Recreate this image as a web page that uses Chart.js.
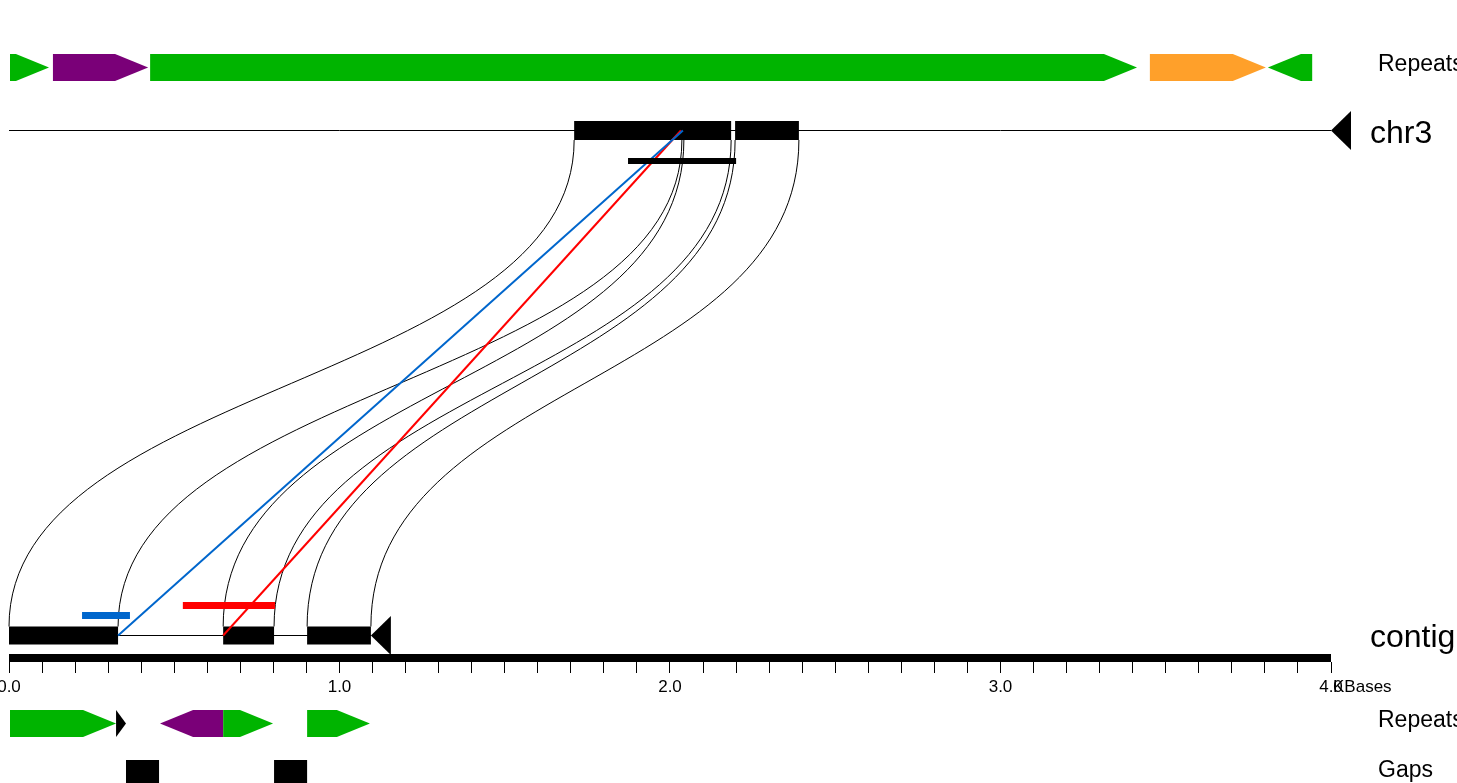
<!DOCTYPE html>
<html>
<head>
<meta charset="utf-8">
<script src="https://cdn.jsdelivr.net/npm/chart.js@4.4.1/dist/chart.umd.min.js"></script>
<style>
  html, body { margin: 0; padding: 0; background: #fff; overflow: hidden; }
  #wrap { width: 1457px; height: 783px; position: relative; }
</style>
</head>
<body>
<div id="wrap"><canvas id="c"></canvas></div>
<script>
// all positions in kilobases
const chr3Length = 4.0;
const contigLength = 1.095;
const chr3Blocks = [[1.710, 2.036], [2.036, 2.185], [2.197, 2.390]];
const contigBlocks = [[0.000, 0.330], [0.648, 0.802], [0.902, 1.095]];
const chr3Hit = [1.873, 2.200];
const blueHit = [0.221, 0.366];
const redHit = [0.526, 0.805];
// [contig kb, chr3 kb]
const blueLink = [0.330, 2.039];
const redLink = [0.648, 2.033];
const linkContig = [0.000, 0.330, 0.648, 0.802, 0.902, 1.095];
const linkChr3 = [1.710, 2.036, 2.042, 2.185, 2.197, 2.390];

const topRepeatStart = [0.003, 0.133, 0.427, 3.452, 3.809];
const topRepeatEnd = [0.121, 0.421, 3.413, 3.803, 3.943];
const topRepeatStrand = ['+', '+', '+', '+', '-'];
const topRepeatClass = ['green', 'purple', 'green', 'orange', 'green'];

const bottomRepeatStart = [0.003, 0.324, 0.457, 0.648, 0.902];
const bottomRepeatEnd = [0.324, 0.354, 0.648, 0.799, 1.092];
const bottomRepeatStrand = ['+', '+', '-', '+', '+'];
const bottomRepeatClass = ['green', 'black', 'purple', 'green', 'green'];

const gapStart = [0.354, 0.802];
const gapEnd = [0.454, 0.902];

const tickLabels = ['0.0', '1.0', '2.0', '3.0', '4.0'];
const axisUnit = 'KBases';

// layout (y in canvas pixels)
const ROW = { repTop: 67.5, chr3: 130.5, chr3Hit: 161, red: 605.5, blue: 615.5, contig: 635.5,
  ruler: 658, rulerTicks: 662, repBottom: 723.5, gaps: 776.5 };
const BLOCK_H = 19;
const REPEAT_H = 27;
const HEAD_KB = 0.1;
const FONT = '"Liberation Sans", Arial, Helvetica, sans-serif';
const repeatColors = { green: '#00b400', purple: '#7a0078', orange: '#ffa02a', black: '#000000' };

// x: 0 kb at 9px, 4 kb at 1331px on a 1457px wide canvas
const PX_PER_KB = 330.5;
const X_MIN = -9 / PX_PER_KB;
const X_MAX = X_MIN + 1457 / PX_PER_KB;

function segs(pairs, y) {
  const pts = [];
  pairs.forEach(p => { pts.push({x: p[0], y: y}, {x: p[1], y: y}, {x: p[1], y: null}); });
  return pts;
}
function lineSet(data, color, width, order) {
  return { type: 'line', data: data, borderColor: color, borderWidth: width, pointRadius: 0,
    borderCapStyle: 'butt', tension: 0, spanGaps: false, fill: false, order: order };
}

const datasets = [
  lineSet(segs([chr3Hit], ROW.chr3Hit), '#000', 6, 1),
  lineSet(segs([blueHit], ROW.blue), '#0066cc', 7, 1),
  lineSet(segs([redHit], ROW.red), '#ff0000', 7, 1),
  lineSet([{x: blueLink[0], y: ROW.contig}, {x: blueLink[1], y: ROW.chr3}], '#0066cc', 2, 2),
  lineSet([{x: redLink[0], y: ROW.contig}, {x: redLink[1], y: ROW.chr3}], '#ff0000', 2, 2),
  lineSet(segs(chr3Blocks, ROW.chr3), '#000', BLOCK_H, 3),
  lineSet(segs(contigBlocks, ROW.contig), '#000', BLOCK_H - 1, 3),
  lineSet(segs(gapStart.map((s, i) => [s, gapEnd[i]]), ROW.gaps), '#000', 33, 3),
  lineSet(segs([[0, chr3Length]], ROW.ruler), '#000', 8, 3),
  lineSet(segs([[0, chr3Length]], ROW.chr3), '#000', 1, 4),
  lineSet(segs([[0, contigLength]], ROW.contig), '#000', 1, 4)
];

function drawRepeat(ctx, xs, ys, s, e, strand, color, row) {
  const x0 = xs.getPixelForValue(s), x1 = xs.getPixelForValue(e);
  const head = Math.min(x1 - x0, xs.getPixelForValue(HEAD_KB) - xs.getPixelForValue(0));
  const mid = ys.getPixelForValue(row);
  const top = mid - REPEAT_H / 2, bot = mid + REPEAT_H / 2;
  ctx.fillStyle = color;
  ctx.beginPath();
  if (strand === '+') {
    ctx.moveTo(x0, top); ctx.lineTo(x1 - head, top); ctx.lineTo(x1, mid);
    ctx.lineTo(x1 - head, bot); ctx.lineTo(x0, bot);
  } else {
    ctx.moveTo(x1, top); ctx.lineTo(x0 + head, top); ctx.lineTo(x0, mid);
    ctx.lineTo(x0 + head, bot); ctx.lineTo(x1, bot);
  }
  ctx.closePath();
  ctx.fill();
}

function drawEnd(ctx, xs, ys, kb, row) {
  const tip = xs.getPixelForValue(kb), mid = ys.getPixelForValue(row);
  ctx.fillStyle = '#000';
  ctx.beginPath();
  ctx.moveTo(tip, mid); ctx.lineTo(tip + 20, mid - 19.5); ctx.lineTo(tip + 20, mid + 19.5);
  ctx.closePath();
  ctx.fill();
}

const genomePlugin = {
  id: 'genome',
  beforeDatasetsDraw(chart) {
    const ctx = chart.ctx, xs = chart.scales.x, ys = chart.scales.y;
    ctx.save();
    ctx.strokeStyle = '#000';
    ctx.lineWidth = 1;
    const yBot = ys.getPixelForValue(ROW.contig - BLOCK_H / 2 + 0.5);
    const yTop = ys.getPixelForValue(ROW.chr3 + BLOCK_H / 2);
    const yMid = (yBot + yTop) / 2;
    linkContig.forEach((a, i) => {
      const xa = xs.getPixelForValue(a), xb = xs.getPixelForValue(linkChr3[i]);
      ctx.beginPath();
      ctx.moveTo(xa, yBot);
      ctx.bezierCurveTo(xa, yMid, xb, yMid, xb, yTop);
      ctx.stroke();
    });
    ctx.restore();
  },
  afterDatasetsDraw(chart) {
    const ctx = chart.ctx, xs = chart.scales.x, ys = chart.scales.y;
    ctx.save();
    topRepeatStart.forEach((s, i) => drawRepeat(ctx, xs, ys, s, topRepeatEnd[i], topRepeatStrand[i], repeatColors[topRepeatClass[i]], ROW.repTop));
    bottomRepeatStart.forEach((s, i) => drawRepeat(ctx, xs, ys, s, bottomRepeatEnd[i], bottomRepeatStrand[i], repeatColors[bottomRepeatClass[i]], ROW.repBottom));
    drawEnd(ctx, xs, ys, chr3Length, ROW.chr3);
    drawEnd(ctx, xs, ys, contigLength, ROW.contig);

    const xr = xs.getPixelForValue(chr3Length);
    ctx.fillStyle = '#000';
    ctx.textAlign = 'left';
    ctx.textBaseline = 'alphabetic';
    ctx.font = '23px ' + FONT;
    ctx.fillText('Repeats', xr + 47, 71);
    ctx.fillText('Repeats', xr + 47, 727);
    ctx.fillText('Gaps', xr + 47, 777);
    ctx.font = '32px ' + FONT;
    ctx.fillText('chr3', xr + 39, ys.getPixelForValue(ROW.chr3) + 12.5);
    ctx.fillText('contig', xr + 39, ys.getPixelForValue(ROW.contig) + 11.5);
    ctx.font = '17px ' + FONT;
    ctx.fillText(axisUnit, xr + 2, 692);
    ctx.restore();
  }
};

const tickValues = [];
for (let i = 0; i <= 40; i++) tickValues.push(i / 10);

new Chart(document.getElementById('c'), {
  type: 'scatter',
  data: { datasets: datasets },
  options: {
    responsive: true,
    maintainAspectRatio: false,
    animation: false,
    events: [],
    layout: { padding: 0 },
    plugins: { legend: { display: false }, tooltip: { enabled: false } },
    scales: {
      x: {
        type: 'linear',
        position: { y: ROW.rulerTicks },
        min: X_MIN,
        max: X_MAX,
        bounds: 'data',
        afterBuildTicks: axis => { axis.ticks = tickValues.map(v => ({ value: v })); },
        afterFit: axis => { axis.paddingLeft = 0; axis.paddingRight = 0; },
        border: { display: false },
        grid: { drawOnChartArea: false, drawTicks: true, tickLength: 11, color: '#000', lineWidth: 1 },
        ticks: {
          autoSkip: false, maxRotation: 0, minRotation: 0, padding: 4, color: '#000',
          font: { family: FONT, size: 17 },
          callback: v => {
            const r = Math.round(v);
            return Math.abs(v - r) < 1e-6 ? tickLabels[r] : '';
          }
        }
      },
      y: { type: 'linear', display: false, reverse: true, min: 0, max: 783, bounds: 'data' }
    }
  },
  plugins: [genomePlugin]
});
</script>
</body>
</html>
